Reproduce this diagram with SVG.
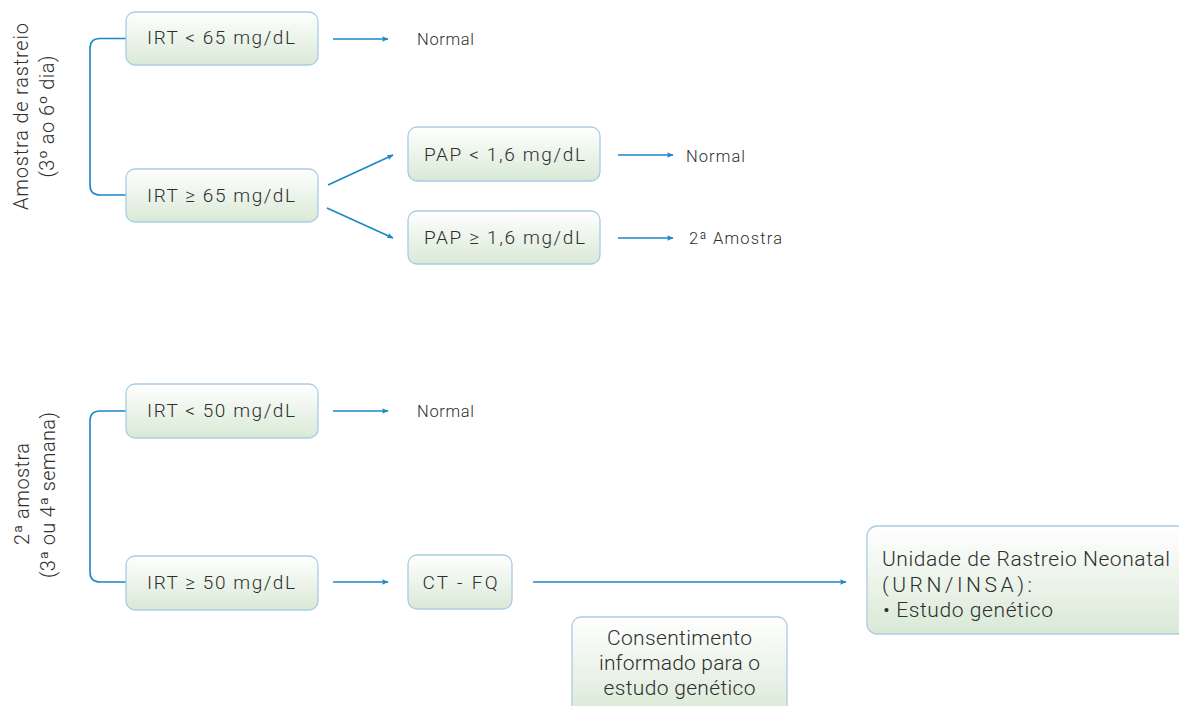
<svg xmlns="http://www.w3.org/2000/svg" width="1179" height="706" viewBox="0 0 1179 706">
<defs>
<linearGradient id="g" x1="0" y1="0" x2="0" y2="1">
<stop offset="0" stop-color="#ffffff"/>
<stop offset="1" stop-color="#d9e9d6"/>
</linearGradient>
<marker id="ah" viewBox="0 0 6 6" refX="5.5" refY="3" markerWidth="6.5" markerHeight="6.5" markerUnits="userSpaceOnUse" orient="auto">
<path d="M0,0.4 L6,3 L0,5.6 L1.2,3 Z" fill="#1b86c8"/>
</marker>
<style>
.box{fill:url(#g);stroke:#a9cbe6;stroke-width:1.3}
.t{font-family:Roboto,"Liberation Sans",Arial,sans-serif;font-weight:300;fill:#2e2e2e;}
.bt{font-size:19px;text-anchor:middle}
.lt{font-size:16.5px}
.big{font-size:21px}
.rot{font-size:20px}
.c{fill:none;stroke:#1b86c8;stroke-width:1.6}
.a{marker-end:url(#ah)}
</style>
</defs>
<rect width="1179" height="706" fill="#ffffff"/>

<g id="connectors">
<path class="c" d="M126,38.5 H100 Q90,38.5 90,48.5 V185 Q90,195 100,195 H126"/>
<path class="c" d="M126,411 H100 Q90,411 90,421 V572 Q90,582 100,582 H126"/>
<line class="c a" x1="333" y1="39" x2="388" y2="39"/>
<line class="c a" x1="328" y1="185" x2="393" y2="155"/>
<line class="c a" x1="327" y1="208" x2="393" y2="238"/>
<line class="c a" x1="618" y1="155" x2="673" y2="155"/>
<line class="c a" x1="618" y1="238" x2="673" y2="238"/>
<line class="c a" x1="333" y1="411" x2="388" y2="411"/>
<line class="c a" x1="333" y1="582" x2="388" y2="582"/>
<line class="c a" x1="533" y1="582" x2="846" y2="582"/>
</g>

<g id="label-amostra-rastreio">
<text class="t rot" text-anchor="middle" transform="translate(28,116.5) rotate(-90)" textLength="187" lengthAdjust="spacing">Amostra de rastreio</text>
<text class="t rot" text-anchor="middle" transform="translate(54,116.5) rotate(-90)" textLength="122" lengthAdjust="spacing">(3º ao 6º dia)</text>
</g>
<g id="label-segunda-amostra">
<text class="t rot" text-anchor="middle" transform="translate(29,494) rotate(-90)" textLength="102" lengthAdjust="spacing">2ª amostra</text>
<text class="t rot" text-anchor="middle" transform="translate(55,495) rotate(-90)" textLength="166" lengthAdjust="spacing">(3ª ou 4ª semana)</text>
</g>

<g id="irt-lt-65">
<rect class="box" x="126" y="12" width="192" height="53" rx="9"/>
<text class="t bt" x="221" y="44" textLength="148" lengthAdjust="spacing">IRT &lt; 65 mg/dL</text>
</g>
<g id="normal-1"><text class="t lt" x="417" y="44.5" textLength="57" lengthAdjust="spacing">Normal</text></g>

<g id="irt-ge-65">
<rect class="box" x="126" y="169" width="192" height="53" rx="9"/>
<text class="t bt" x="221" y="201.5" textLength="148" lengthAdjust="spacing">IRT ≥ 65 mg/dL</text>
</g>

<g id="pap-lt">
<rect class="box" x="408" y="127" width="192" height="54" rx="9"/>
<text class="t bt" x="504.5" y="161" textLength="161" lengthAdjust="spacing">PAP &lt; 1,6 mg/dL</text>
</g>
<g id="normal-2"><text class="t lt" x="686" y="161.5" textLength="59" lengthAdjust="spacing">Normal</text></g>

<g id="pap-ge">
<rect class="box" x="408" y="211" width="192" height="53" rx="9"/>
<text class="t bt" x="504.5" y="244" textLength="161" lengthAdjust="spacing">PAP ≥ 1,6 mg/dL</text>
</g>
<g id="segunda-amostra"><text class="t lt" x="689" y="244" textLength="93" lengthAdjust="spacing">2ª Amostra</text></g>

<g id="irt-lt-50">
<rect class="box" x="126" y="384" width="192" height="54" rx="9"/>
<text class="t bt" x="221" y="417" textLength="148" lengthAdjust="spacing">IRT &lt; 50 mg/dL</text>
</g>
<g id="normal-3"><text class="t lt" x="417" y="416.5" textLength="57" lengthAdjust="spacing">Normal</text></g>

<g id="irt-ge-50">
<rect class="box" x="126" y="556" width="192" height="54" rx="9"/>
<text class="t bt" x="221" y="589" textLength="148" lengthAdjust="spacing">IRT ≥ 50 mg/dL</text>
</g>

<g id="ct-fq">
<rect class="box" x="408" y="555" width="104" height="54" rx="9"/>
<text class="t bt" x="460" y="588.5" textLength="75" lengthAdjust="spacing">CT - FQ</text>
</g>

<g id="consentimento">
<rect class="box" x="572" y="617" width="215" height="100" rx="9"/>
<text class="t big" text-anchor="middle" x="679.5" y="645" textLength="145" lengthAdjust="spacing">Consentimento</text>
<text class="t big" text-anchor="middle" x="679.5" y="670" textLength="161" lengthAdjust="spacing">informado para o</text>
<text class="t big" text-anchor="middle" x="679.5" y="694.5" textLength="152" lengthAdjust="spacing">estudo genético</text>
</g>

<g id="urn">
<rect class="box" x="867" y="526" width="330" height="108" rx="10"/>
<text class="t big" x="882" y="566" textLength="288" lengthAdjust="spacing">Unidade de Rastreio Neonatal</text>
<text class="t big" x="882" y="591.5" textLength="150" lengthAdjust="spacing">(URN/INSA):</text>
<text class="t big" x="883" y="616.5" textLength="170" lengthAdjust="spacing">• Estudo genético</text>
</g>
</svg>
